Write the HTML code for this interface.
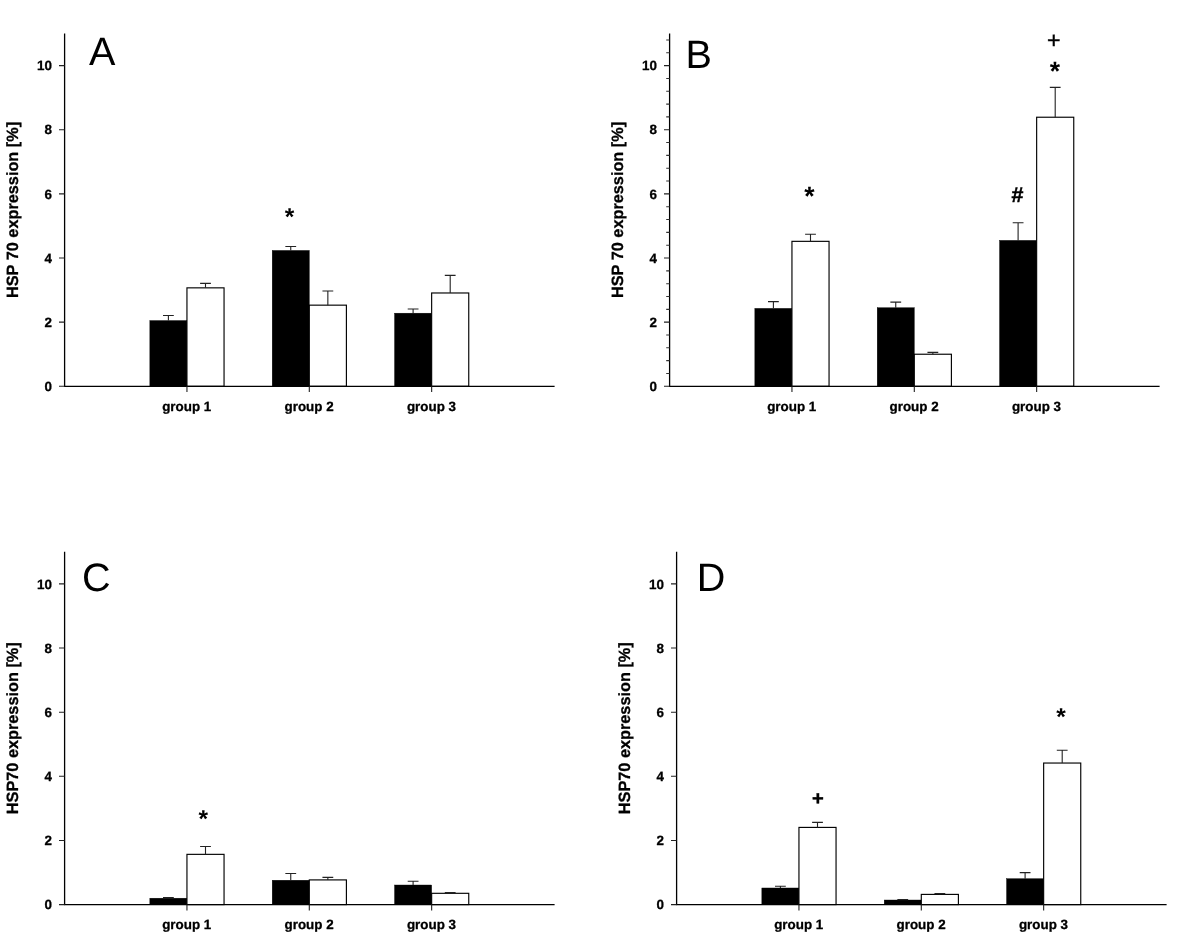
<!DOCTYPE html>
<html lang="en">
<head>
<meta charset="utf-8">
<title>HSP 70 expression</title>
<style>
html,body{margin:0;padding:0;background:#fff;}
body{width:1200px;height:951px;overflow:hidden;}
svg{display:block;}
text{font-family:"Liberation Sans",Arial,Helvetica,sans-serif;fill:#000;text-rendering:geometricPrecision;}
.tick{font-size:13.4px;font-weight:bold;text-anchor:end;}
.grp{font-size:13.4px;font-weight:bold;text-anchor:middle;}
.ylab{font-size:16.3px;font-weight:bold;text-anchor:middle;}
.letter{font-size:39.6px;font-weight:normal;}
.mark{font-weight:bold;text-anchor:middle;}
.tick,.grp,.ylab{stroke:#000;stroke-width:0.3px;stroke-linejoin:round;}
.hash{stroke:#000;stroke-width:0.5px;}
.plusD{stroke:#000;stroke-width:0.4px;}
.plusB{font-weight:normal;stroke:#000;stroke-width:0.45px;}
.ax{stroke:#000;stroke-width:1.3;fill:none;}
.tk{stroke:#222;stroke-width:1.1;fill:none;}
.mtk{stroke:#333;stroke-width:1.1;fill:none;}
.bk{fill:#000;stroke:#000;stroke-width:0.4;}
.wh{fill:#fff;stroke:#000;stroke-width:1.15;}
.err{stroke:#222;stroke-width:1.1;fill:none;}
</style>
</head>
<body>
<svg width="1200" height="951" viewBox="0 0 1200 951">
<rect x="0" y="0" width="1200" height="951" fill="#fff"/>

<g id="panel-A">
<rect class="bk" x="149.85" y="320.56" width="37.1" height="65.74"/>
<rect class="wh" x="186.95" y="287.85" width="37.1" height="98.45"/>
<path class="err" d="M168.4 320.56V315.43M163 315.43H173.8"/>
<path class="err" d="M205.5 287.85V283.36M200.1 283.36H210.9"/>
<rect class="bk" x="272.2" y="250.45" width="37.1" height="135.85"/>
<rect class="wh" x="309.3" y="305.16" width="37.1" height="81.14"/>
<path class="err" d="M290.75 250.45V246.47M285.35 246.47H296.15"/>
<path class="err" d="M327.85 305.16V291.05M322.45 291.05H333.25"/>
<rect class="bk" x="394.55" y="313.18" width="37.1" height="73.12"/>
<rect class="wh" x="431.65" y="292.98" width="37.1" height="93.32"/>
<path class="err" d="M413.1 313.18V309.01M407.7 309.01H418.5"/>
<path class="err" d="M450.2 292.98V275.34M444.8 275.34H455.6"/>
<path class="ax" d="M64.6 33.53V386.3H554.6"/>
<path class="tk" d="M59 386.3H64.6M59 322.16H64.6M59 258.02H64.6M59 193.88H64.6M59 129.74H64.6M59 65.6H64.6"/>
<path class="tk" d="M186.95 386.3V392.1M309.3 386.3V392.1M431.65 386.3V392.1"/>
<text class="tick" x="52" y="390.95">0</text>
<text class="tick" x="52" y="326.81">2</text>
<text class="tick" x="52" y="262.67">4</text>
<text class="tick" x="52" y="198.53">6</text>
<text class="tick" x="52" y="134.39">8</text>
<text class="tick" x="52" y="70.25">10</text>
<text class="grp" x="186.75" y="410.9">group 1</text>
<text class="grp" x="309.1" y="410.9">group 2</text>
<text class="grp" x="431.45" y="410.9">group 3</text>
<text class="ylab" transform="translate(17.7 209.92) rotate(-90)">HSP 70 expression [%]</text>
<text class="letter" x="89" y="64.6">A</text>
<text class="mark" font-size="24.5" x="289.5" y="224.77">*</text>
</g>
<g id="panel-B">
<rect class="bk" x="754.85" y="308.37" width="37.1" height="77.93"/>
<rect class="wh" x="791.95" y="241.34" width="37.1" height="144.96"/>
<path class="err" d="M773.4 308.37V301.64M768 301.64H778.8"/>
<path class="err" d="M810.5 241.34V234.29M805.1 234.29H815.9"/>
<rect class="bk" x="877.2" y="307.73" width="37.1" height="78.57"/>
<rect class="wh" x="914.3" y="354.23" width="37.1" height="32.07"/>
<path class="err" d="M895.75 307.73V302.12M890.35 302.12H901.15"/>
<path class="err" d="M932.85 354.23V352.4M927.45 352.4H938.25"/>
<rect class="bk" x="999.55" y="240.38" width="37.1" height="145.92"/>
<rect class="wh" x="1036.65" y="117.23" width="37.1" height="269.07"/>
<path class="err" d="M1018.1 240.38V222.74M1012.7 222.74H1023.5"/>
<path class="err" d="M1055.2 117.23V87.41M1049.8 87.41H1060.6"/>
<path class="ax" d="M669.6 33.53V386.3H1159.6"/>
<path class="tk" d="M664 386.3H669.6M664 322.16H669.6M664 258.02H669.6M664 193.88H669.6M664 129.74H669.6M664 65.6H669.6"/>
<path class="mtk" d="M666.2 373.47H669.6M666.2 360.64H669.6M666.2 347.82H669.6M666.2 334.99H669.6M666.2 309.33H669.6M666.2 296.5H669.6M666.2 283.68H669.6M666.2 270.85H669.6M666.2 245.19H669.6M666.2 232.36H669.6M666.2 219.54H669.6M666.2 206.71H669.6M666.2 181.05H669.6M666.2 168.22H669.6M666.2 155.4H669.6M666.2 142.57H669.6M666.2 116.91H669.6M666.2 104.08H669.6M666.2 91.26H669.6M666.2 78.43H669.6M666.2 52.77H669.6M666.2 39.94H669.6"/>
<path class="tk" d="M791.95 386.3V392.1M914.3 386.3V392.1M1036.65 386.3V392.1"/>
<text class="tick" x="657" y="390.95">0</text>
<text class="tick" x="657" y="326.81">2</text>
<text class="tick" x="657" y="262.67">4</text>
<text class="tick" x="657" y="198.53">6</text>
<text class="tick" x="657" y="134.39">8</text>
<text class="tick" x="657" y="70.25">10</text>
<text class="grp" x="791.75" y="410.9">group 1</text>
<text class="grp" x="914.1" y="410.9">group 2</text>
<text class="grp" x="1036.45" y="410.9">group 3</text>
<text class="ylab" transform="translate(622.7 209.92) rotate(-90)">HSP 70 expression [%]</text>
<text class="letter" x="685.6" y="67.8">B</text>
<text class="mark" font-size="26.5" x="809.4" y="205.38">*</text>
<text class="mark hash" font-size="21.4" x="1017.5" y="202.23">#</text>
<text class="mark plusB" font-size="23.2" x="1053.8" y="48.07">+</text>
<text class="mark" font-size="26.5" x="1054.8" y="79.78">*</text>
</g>
<g id="panel-C">
<rect class="bk" x="149.85" y="898.19" width="37.1" height="6.41"/>
<rect class="wh" x="186.95" y="854.35" width="37.1" height="50.25"/>
<path class="err" d="M168.4 898.19V897.54M163 897.54H173.8"/>
<path class="err" d="M205.5 854.35V846.55M200.1 846.55H210.9"/>
<rect class="bk" x="272.2" y="880.23" width="37.1" height="24.37"/>
<rect class="wh" x="309.3" y="879.91" width="37.1" height="24.69"/>
<path class="err" d="M290.75 880.23V873.49M285.35 873.49H296.15"/>
<path class="err" d="M327.85 879.91V877.34M322.45 877.34H333.25"/>
<rect class="bk" x="394.55" y="885.01" width="37.1" height="19.59"/>
<rect class="wh" x="431.65" y="893.31" width="37.1" height="11.29"/>
<path class="err" d="M413.1 885.01V881.32M407.7 881.32H418.5"/>
<path class="err" d="M450.2 893.31V892.51M444.8 892.51H455.6"/>
<path class="ax" d="M64.6 551.83V904.6H554.6"/>
<path class="tk" d="M59 904.6H64.6M59 840.46H64.6M59 776.32H64.6M59 712.18H64.6M59 648.04H64.6M59 583.9H64.6"/>
<path class="tk" d="M186.95 904.6V910.4M309.3 904.6V910.4M431.65 904.6V910.4"/>
<text class="tick" x="52" y="909.25">0</text>
<text class="tick" x="52" y="845.11">2</text>
<text class="tick" x="52" y="780.97">4</text>
<text class="tick" x="52" y="716.83">6</text>
<text class="tick" x="52" y="652.69">8</text>
<text class="tick" x="52" y="588.55">10</text>
<text class="grp" x="186.75" y="929.2">group 1</text>
<text class="grp" x="309.1" y="929.2">group 2</text>
<text class="grp" x="431.45" y="929.2">group 3</text>
<text class="ylab" transform="translate(17.7 728.22) rotate(-90)">HSP70 expression [%]</text>
<text class="letter" x="82" y="590.7">C</text>
<text class="mark" font-size="24.5" x="203.2" y="826.87">*</text>
</g>
<g id="panel-D">
<rect class="bk" x="761.85" y="887.99" width="37.1" height="16.61"/>
<rect class="wh" x="798.95" y="827.41" width="37.1" height="77.19"/>
<path class="err" d="M780.4 887.99V886.19M775 886.19H785.8"/>
<path class="err" d="M817.5 827.41V822.4M812.1 822.4H822.9"/>
<rect class="bk" x="884.2" y="900.01" width="37.1" height="4.59"/>
<rect class="wh" x="921.3" y="894.4" width="37.1" height="10.2"/>
<path class="err" d="M902.75 900.01V899.6M897.35 899.6H908.15"/>
<path class="err" d="M939.85 894.4V893.6M934.45 893.6H945.25"/>
<rect class="bk" x="1006.55" y="878.69" width="37.1" height="25.91"/>
<rect class="wh" x="1043.65" y="763.04" width="37.1" height="141.56"/>
<path class="err" d="M1025.1 878.69V872.66M1019.7 872.66H1030.5"/>
<path class="err" d="M1062.2 763.04V750.18M1056.8 750.18H1067.6"/>
<path class="ax" d="M676.6 551.83V904.6H1166.6"/>
<path class="tk" d="M671 904.6H676.6M671 840.46H676.6M671 776.32H676.6M671 712.18H676.6M671 648.04H676.6M671 583.9H676.6"/>
<path class="tk" d="M798.95 904.6V910.4M921.3 904.6V910.4M1043.65 904.6V910.4"/>
<text class="tick" x="664" y="909.25">0</text>
<text class="tick" x="664" y="845.11">2</text>
<text class="tick" x="664" y="780.97">4</text>
<text class="tick" x="664" y="716.83">6</text>
<text class="tick" x="664" y="652.69">8</text>
<text class="tick" x="664" y="588.55">10</text>
<text class="grp" x="798.75" y="929.2">group 1</text>
<text class="grp" x="921.1" y="929.2">group 2</text>
<text class="grp" x="1043.45" y="929.2">group 3</text>
<text class="ylab" transform="translate(629.7 728.22) rotate(-90)">HSP70 expression [%]</text>
<text class="letter" x="696.8" y="590.9">D</text>
<text class="mark plusD" font-size="20.2" x="817.85" y="804.97">+</text>
<text class="mark" font-size="24.5" x="1060.9" y="725.07">*</text>
</g>
</svg>
</body>
</html>
